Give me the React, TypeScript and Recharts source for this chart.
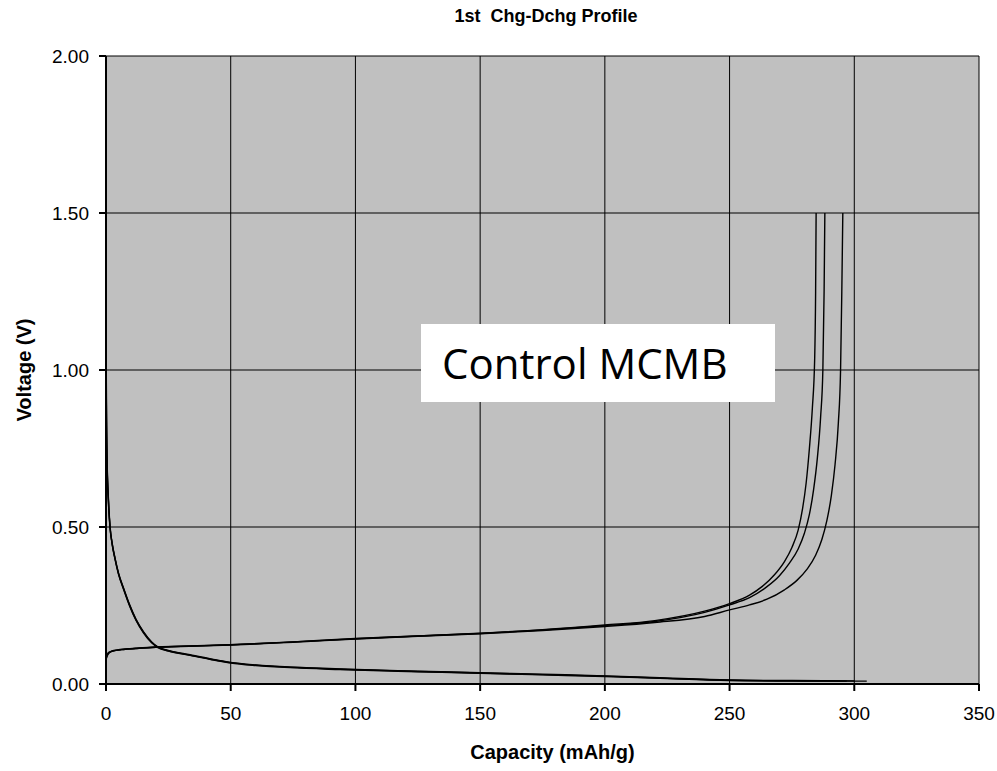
import { LineChart, Line, XAxis, YAxis, CartesianGrid } from "recharts";

type Pt = [number, number];

const X_TICKS = [0, 50, 100, 150, 200, 250, 300, 350];
const Y_TICKS = [0, 0.5, 1, 1.5, 2];

// delithiation (charge) curves, capacity vs voltage
const chargeA: Pt[] = [
	[0, 0.078], [0.5, 0.09], [1, 0.097], [2, 0.103], [4, 0.107], [7, 0.11], [12, 0.113],
	[20, 0.117], [30, 0.12], [50, 0.125], [75, 0.134], [100, 0.145], [125, 0.153],
	[150, 0.162], [175, 0.173], [200, 0.188], [220, 0.202], [240, 0.232], [250, 0.256],
	[258, 0.283], [263, 0.31], [268, 0.348], [272, 0.39], [275, 0.435], [277.5, 0.49],
	[279.3, 0.56], [280.7, 0.64], [282, 0.75], [283.2, 0.88], [284.1, 1.03], [284.5, 1.25],
	[284.7, 1.5],
];
const chargeB: Pt[] = [
	[0, 0.086], [0.5, 0.094], [1, 0.1], [2, 0.104], [4, 0.108], [7, 0.111], [12, 0.114],
	[20, 0.118], [30, 0.12], [50, 0.125], [75, 0.134], [100, 0.144], [125, 0.153],
	[150, 0.161], [175, 0.172], [200, 0.186], [220, 0.199], [240, 0.228], [250, 0.252],
	[258, 0.275], [265, 0.31], [270, 0.345], [274, 0.385], [277.5, 0.43], [280, 0.48],
	[282, 0.54], [283.7, 0.62], [285.2, 0.72], [286.5, 0.85], [287.4, 1.0], [287.9, 1.25],
	[288.2, 1.5],
];
const chargeC: Pt[] = [
	[0, 0.08], [0.5, 0.091], [1, 0.098], [2, 0.103], [4, 0.107], [7, 0.11], [12, 0.113],
	[20, 0.117], [30, 0.119], [50, 0.124], [75, 0.133], [100, 0.143], [125, 0.152],
	[150, 0.16], [175, 0.17], [200, 0.183], [220, 0.196], [240, 0.215], [250, 0.236],
	[258, 0.252], [265, 0.27], [272, 0.3], [277, 0.33], [281, 0.365], [284.5, 0.41],
	[287, 0.46], [289, 0.52], [290.8, 0.6], [292.3, 0.7], [293.6, 0.83], [294.5, 1.0],
	[295, 1.25], [295.4, 1.5],
];

// lithiation (discharge) curves
const dischargeA: Pt[] = [
	[0, 1.68], [0.05, 1.2], [0.15, 0.9], [0.4, 0.72], [1, 0.58], [1.6, 0.5], [2.5, 0.445],
	[3.6, 0.4], [5, 0.352], [7.2, 0.3], [9.5, 0.25], [12, 0.205], [15, 0.165], [18.3, 0.133],
	[20.8, 0.117], [25, 0.106], [33.7, 0.092], [42, 0.079], [50, 0.068], [60, 0.06],
	[73.8, 0.053], [93.8, 0.047], [125, 0.04], [150, 0.035], [175, 0.03], [200, 0.025],
	[225, 0.018], [250, 0.012], [275, 0.01], [297, 0.009],
];
const dischargeB: Pt[] = [
	[0, 1.66], [0.05, 1.18], [0.15, 0.89], [0.4, 0.71], [1, 0.575], [1.6, 0.5], [2.5, 0.447],
	[3.6, 0.402], [5, 0.354], [7.2, 0.302], [9.5, 0.252], [12, 0.207], [15, 0.167],
	[18.3, 0.134], [20.8, 0.118], [25, 0.107], [33.7, 0.093], [42, 0.08], [50, 0.069],
	[60, 0.061], [73.8, 0.054], [93.8, 0.048], [125, 0.041], [150, 0.036], [175, 0.031],
	[200, 0.026], [225, 0.019], [250, 0.013], [275, 0.011], [300, 0.01],
];
const dischargeC: Pt[] = [
	[0, 1.7], [0.05, 1.22], [0.15, 0.91], [0.4, 0.73], [1, 0.585], [1.6, 0.505], [2.5, 0.443],
	[3.6, 0.398], [5, 0.35], [7.2, 0.298], [9.5, 0.248], [12, 0.203], [15, 0.163],
	[18.3, 0.131], [20.8, 0.116], [25, 0.105], [33.7, 0.091], [42, 0.078], [50, 0.067],
	[60, 0.059], [73.8, 0.052], [93.8, 0.046], [125, 0.039], [150, 0.034], [175, 0.029],
	[200, 0.024], [225, 0.017], [250, 0.011], [275, 0.009], [305, 0.009],
];

const SERIES = [chargeA, chargeB, chargeC, dischargeA, dischargeB, dischargeC];

const toRows = (pts: Pt[]) => pts.map(([x, y]) => ({ x, y }));

const FONT = "'Liberation Sans', Arial, sans-serif";

const App = () => {
	return (
		<div
			style={{
				position: "absolute",
				left: 0,
				top: 0,
				width: 997,
				height: 771,
				background: "#fff",
				fontFamily: FONT,
			}}
		>
			<LineChart
				width={997}
				height={771}
				margin={{ top: 56, right: 18, bottom: 0, left: 0 }}
			>
				<CartesianGrid
					stroke='#000'
					strokeWidth={1}
					fill='#c0c0c0'
					fillOpacity={1}
				/>
				<XAxis
					type='number'
					dataKey='x'
					domain={[0, 350]}
					ticks={X_TICKS}
					interval={0}
					height={87}
					tickSize={7}
					tickMargin={16}
					stroke='#000'
					strokeWidth={2}
					tick={{ fill: "#000", fontSize: 19, fontFamily: FONT }}
					allowDataOverflow
				/>
				<YAxis
					type='number'
					dataKey='y'
					domain={[0, 2]}
					ticks={Y_TICKS}
					interval={0}
					width={106}
					tickSize={7}
					tickMargin={10}
					stroke='#000'
					strokeWidth={2}
					tickFormatter={(v: number) => v.toFixed(2)}
					tick={{ fill: "#000", fontSize: 19, fontFamily: FONT }}
					allowDataOverflow
				/>
				{SERIES.map((s, i) => (
					<Line
						key={`s-${i}`}
						data={toRows(s)}
						dataKey='y'
						type='monotone'
						stroke='#000'
						strokeWidth={1.4}
						dot={false}
						activeDot={false}
						isAnimationActive={false}
					/>
				))}
			</LineChart>

			<div
				style={{
					position: "absolute",
					left: 0,
					width: 997,
					top: 6,
					textAlign: "center",
					paddingLeft: 95,
					boxSizing: "border-box",
					fontSize: 18,
					fontWeight: "bold",
					whiteSpace: "pre",
				}}
			>
				{"1st  Chg-Dchg Profile"}
			</div>
			<div
				style={{
					position: "absolute",
					left: 106,
					width: 873,
					top: 741,
					textAlign: "center",
					paddingLeft: 20,
					boxSizing: "border-box",
					fontSize: 20,
					fontWeight: "bold",
				}}
			>
				Capacity (mAh/g)
			</div>
			<div
				style={{
					position: "absolute",
					left: 24,
					top: 370,
					transform: "translate(-50%, -50%) rotate(-90deg)",
					fontSize: 20,
					fontWeight: "bold",
					whiteSpace: "nowrap",
				}}
			>
				Voltage (V)
			</div>
			<div
				style={{
					position: "absolute",
					left: 421,
					top: 324,
					width: 354,
					height: 78,
					background: "#fff",
					boxSizing: "border-box",
					paddingLeft: 21,
					fontFamily: "'Open Sans', sans-serif",
					fontSize: 42,
					lineHeight: "78px",
				}}
			>
				Control MCMB
			</div>
		</div>
	);
};

export default App;
